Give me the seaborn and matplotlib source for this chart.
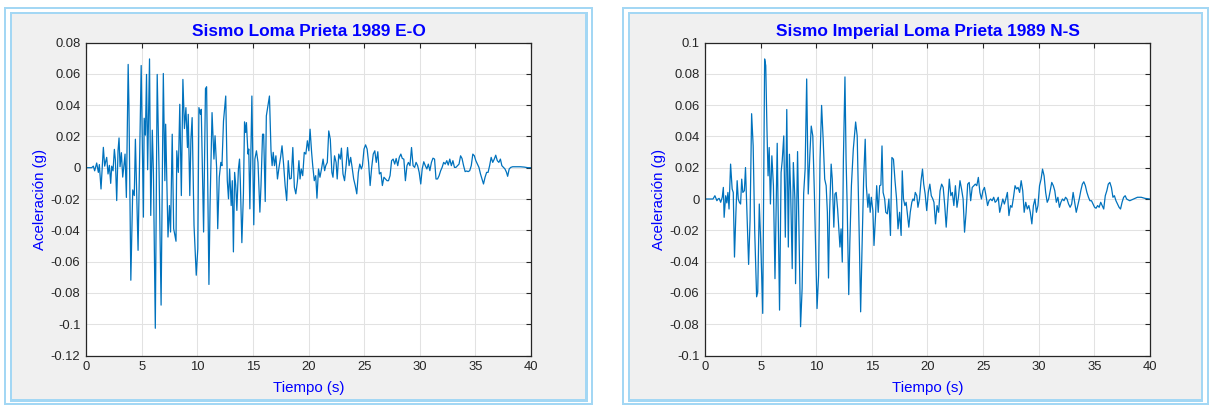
import matplotlib
matplotlib.use("Agg")
import matplotlib.pyplot as plt
from matplotlib.patches import Rectangle
from matplotlib.ticker import FuncFormatter
import numpy as np
import pandas as pd
import seaborn as sns

# Loma Prieta 1989, E-O component: time (s) and acceleration (g)
t_eo = [0.0, 0.06, 0.51, 0.66, 0.78, 0.96, 1.11, 1.2, 1.35, 1.56, 1.68, 1.77, 1.86, 1.98, 2.1, 2.22,
        2.31, 2.43, 2.55, 2.64, 2.76, 2.88, 2.97, 3.06, 3.18, 3.3, 3.42, 3.51, 3.63, 3.79, 3.86, 4.03,
        4.2, 4.34, 4.44, 4.68, 4.96, 5.16, 5.23, 5.34, 5.44, 5.54, 5.71, 5.82, 5.96, 6.06, 6.23, 6.4,
        6.57, 6.75, 6.95, 7.09, 7.16, 7.37, 7.5, 7.6, 7.75, 7.88, 8.09, 8.16, 8.3, 8.43, 8.57, 8.71,
        8.85, 8.98, 9.12, 9.19, 9.33, 9.43, 9.54, 9.71, 9.91, 10.05, 10.15, 10.29, 10.36, 10.46, 10.57,
        10.74, 10.84, 11.05, 11.15, 11.33, 11.5, 11.6, 11.74, 11.84, 11.98, 12.12, 12.22, 12.36, 12.56,
        12.7, 12.81, 12.91, 13.05, 13.15, 13.25, 13.36, 13.46, 13.56, 13.7, 13.8, 13.87, 14.01, 14.15,
        14.25, 14.35, 14.42, 14.56, 14.63, 14.73, 14.91, 15.08, 15.18, 15.32, 15.46, 15.63, 15.73,
        15.87, 15.97, 16.11, 16.21, 16.35, 16.49, 16.63, 16.73, 16.83, 16.94, 17.07, 17.21, 17.35,
        17.49, 17.62, 17.76, 17.9, 18.04, 18.18, 18.31, 18.45, 18.59, 18.73, 18.86, 19.0, 19.14, 19.24,
        19.35, 19.48, 19.62, 19.76, 19.9, 20.03, 20.14, 20.28, 20.38, 20.52, 20.65, 20.76, 20.9, 21.03,
        21.17, 21.31, 21.45, 21.55, 21.69, 21.82, 21.96, 22.1, 22.2, 22.34, 22.48, 22.58, 22.72, 22.86,
        22.96, 23.1, 23.24, 23.38, 23.51, 23.65, 23.79, 23.92, 24.06, 24.2, 24.34, 24.48, 24.61, 24.75,
        24.85, 24.99, 25.13, 25.27, 25.4, 25.54, 25.68, 25.82, 25.96, 26.09, 26.23, 26.37, 26.51,
        26.64, 26.78, 26.92, 27.06, 27.19, 27.33, 27.47, 27.61, 27.75, 27.88, 28.02, 28.16, 28.3,
        28.43, 28.57, 28.71, 28.85, 28.98, 29.12, 29.26, 29.4, 29.54, 29.67, 29.81, 29.95, 30.09,
        30.22, 30.36, 30.5, 30.64, 30.77, 30.91, 31.05, 31.19, 31.33, 31.46, 31.6, 31.74, 31.88, 32.01,
        32.15, 32.29, 32.43, 32.56, 32.7, 32.84, 32.98, 33.12, 33.25, 33.39, 33.53, 33.67, 33.8, 33.94,
        34.08, 34.22, 34.35, 34.49, 34.63, 34.77, 34.91, 35.04, 35.18, 35.32, 35.46, 35.59, 35.73,
        35.87, 36.01, 36.14, 36.28, 36.42, 36.56, 36.7, 36.83, 36.97, 37.11, 37.25, 37.38, 37.52,
        37.66, 37.8, 37.9, 38.04, 38.18, 38.35, 38.69, 39.04, 39.38, 39.72, 40.0]
acc_eo = [0.0, 0.0, 0.0, 0.001, -0.002, 0.003, -0.003, 0.002, -0.0136, 0.013, 0.001, 0.004, 0.0066,
          -0.004, 0.0015, -0.010, 0.001, -0.002, 0.0117, 0.005, -0.021, 0.011, 0.019, 0.0006, 0.0096,
          -0.006, 0.002, 0.0087, -0.019, 0.066, 0.0394, -0.0719, -0.0142, -0.0178, 0.0182, -0.0528,
          0.0653, -0.0316, 0.0316, 0.0208, 0.0596, -0.0013, 0.0695, -0.0305, 0.024, -0.003, -0.1026,
          0.0596, -0.003, -0.0878, 0.0602, -0.0083, 0.0278, -0.0443, -0.0242, -0.0411, 0.0214, -0.039,
          -0.047, 0.0108, -0.003, 0.0405, -0.0178, 0.0564, 0.025, 0.0384, 0.0129, 0.0341, -0.0178,
          0.0182, 0.032, -0.0369, -0.0687, -0.0517, 0.0384, 0.0341, 0.0373, 0.0002, -0.0411, 0.0505,
          0.0517, -0.0746, -0.0242, 0.0352, 0.0055, 0.0204, 0.0002, -0.039, -0.0061, 0.0034, 0.0013,
          0.0299, 0.0458, -0.0083, -0.0199, -0.0008, -0.0242, -0.0083, -0.0538, -0.003, -0.0114,
          -0.0273, -0.0008, 0.0055, -0.0083, -0.0479, -0.0167, 0.0293, 0.0225, 0.0288, 0.0087, 0.0119,
          -0.0263, 0.0458, -0.0365, 0.0055, 0.0108, 0.0034, -0.0284, -0.0114, 0.0214, 0.0214, -0.0216,
          0.0331, 0.0394, 0.0458, 0.0108, 0.0013, 0.0098, 0.0013, 0.0076, -0.0072, 0.0002, 0.0066,
          0.014, 0.0023, -0.0114, -0.021, 0.0045, -0.0072, -0.0068, 0.0129, -0.0125, -0.0167, -0.0089,
          0.0045, -0.0072, -0.0008, -0.0051, 0.0098, 0.0087, 0.0172, 0.0108, 0.0246, 0.0098, 0.0013,
          -0.0083, -0.0051, -0.0195, -0.0008, -0.0061, -0.0008, 0.0055, -0.0019, 0.0013, 0.0034, 0.0235,
          0.0182, -0.003, -0.0061, 0.0076, 0.0034, -0.0072, 0.0087, 0.0055, 0.0125, -0.004, -0.0083,
          0.0013, 0.0129, 0.0013, 0.0066, 0.0002, -0.0072, -0.0114, -0.0167, -0.003, 0.0023, -0.0008,
          0.0013, 0.0119, 0.0146, 0.0119, 0.0034, -0.0114, 0.0002, 0.0087, 0.0108, 0.0034, 0.0102,
          -0.004, -0.003, -0.0114, -0.0061, -0.0072, -0.0083, -0.0083, -0.0051, 0.0045, 0.0055, 0.0023,
          0.0059, 0.0013, 0.0066, 0.0087, 0.0059, 0.0055, -0.0083, 0.0013, 0.0034, 0.0013, 0.0129,
          0.0013, 0.0002, 0.0034, 0.0013, -0.003, -0.0104, -0.0008, 0.0038, 0.0013, -0.0008, 0.0023,
          -0.0019, 0.0034, 0.0061, 0.0055, -0.0072, -0.0072, -0.0051, -0.0019, 0.0002, 0.0034, 0.0023,
          0.0045, 0.0017, 0.0055, 0.0013, 0.0045, 0.0002, 0.0002, 0.0013, 0.0023, 0.0076, 0.0059,
          0.0013, -0.0025, -0.0021, -0.0025, -0.0019, 0.0013, 0.0087, 0.0076, 0.0045, 0.0023, 0.0002,
          -0.004, -0.0072, -0.0104, -0.0061, -0.003, -0.003, 0.0013, 0.0066, 0.0034, 0.0055, 0.008,
          0.0045, 0.0034, 0.0055, 0.0013, 0.0002, -0.0008, -0.003, -0.0055, -0.0008, 0.0002, 0.0006,
          0.0006, 0.0006, 0.0004, 0.0, 0.0]

# Imperial Loma Prieta 1989, N-S component: time (s) and acceleration (g)
t_ns = [0.0, 0.72, 0.89, 1.07, 1.17, 1.27, 1.41, 1.55, 1.65, 1.72, 1.86, 1.96, 2.06, 2.16, 2.3, 2.44,
        2.54, 2.65, 2.78, 2.89, 2.99, 3.09, 3.2, 3.3, 3.4, 3.54, 3.64, 3.75, 3.92, 4.05, 4.19, 4.33,
        4.47, 4.64, 4.74, 4.88, 5.02, 5.19, 5.36, 5.46, 5.57, 5.67, 5.77, 5.88, 6.01, 6.15, 6.29, 6.49,
        6.7, 6.84, 6.94, 7.08, 7.22, 7.35, 7.49, 7.59, 7.7, 7.84, 7.94, 8.08, 8.14, 8.32, 8.45, 8.59,
        8.73, 8.87, 9.0, 9.14, 9.28, 9.42, 9.55, 9.69, 9.83, 9.93, 10.07, 10.21, 10.34, 10.48, 10.62,
        10.76, 10.89, 11.0, 11.1, 11.2, 11.34, 11.44, 11.58, 11.68, 11.79, 11.92, 12.03, 12.13, 12.23,
        12.34, 12.44, 12.58, 12.68, 12.78, 12.92, 13.02, 13.16, 13.33, 13.54, 13.68, 13.78, 13.88,
        13.99, 14.12, 14.26, 14.4, 14.5, 14.64, 14.74, 14.85, 14.95, 15.09, 15.19, 15.33, 15.43,
        15.57, 15.7, 15.81, 15.91, 16.01, 16.15, 16.25, 16.39, 16.53, 16.67, 16.8, 16.94, 17.08,
        17.22, 17.35, 17.49, 17.63, 17.73, 17.84, 17.97, 18.08, 18.18, 18.32, 18.45, 18.59, 18.69,
        18.8, 18.9, 19.04, 19.14, 19.28, 19.42, 19.55, 19.66, 19.79, 19.93, 20.07, 20.21, 20.34,
        20.48, 20.58, 20.72, 20.86, 21.0, 21.13, 21.27, 21.41, 21.55, 21.68, 21.82, 21.96, 22.1,
        22.23, 22.37, 22.51, 22.65, 22.78, 22.92, 23.06, 23.2, 23.33, 23.47, 23.61, 23.75, 23.88,
        24.02, 24.16, 24.3, 24.43, 24.57, 24.71, 24.85, 24.98, 25.12, 25.26, 25.4, 25.53, 25.67,
        25.81, 25.95, 26.08, 26.22, 26.36, 26.49, 26.63, 26.77, 26.91, 27.04, 27.18, 27.32, 27.46,
        27.59, 27.73, 27.87, 28.01, 28.14, 28.28, 28.42, 28.56, 28.69, 28.83, 28.97, 29.11, 29.24,
        29.38, 29.52, 29.66, 29.79, 29.93, 30.07, 30.21, 30.34, 30.48, 30.62, 30.76, 30.89, 31.03,
        31.17, 31.31, 31.44, 31.58, 31.72, 31.86, 31.99, 32.13, 32.27, 32.41, 32.54, 32.68, 32.82,
        32.96, 33.09, 33.23, 33.37, 33.51, 33.64, 33.78, 33.92, 34.05, 34.19, 34.33, 34.47, 34.6,
        34.74, 34.88, 35.02, 35.15, 35.29, 35.43, 35.57, 35.7, 35.84, 35.98, 36.12, 36.25, 36.39,
        36.53, 36.67, 36.8, 36.94, 37.08, 37.22, 37.35, 37.49, 37.63, 37.77, 37.9, 38.04, 38.18,
        38.52, 38.87, 39.21, 39.55, 40.0]
acc_ns = [0.0, 0.0, 0.0021, -0.0011, 0.0, 0.0004, -0.0021, 0.0011, 0.0074, -0.0117, 0.0021, -0.0025,
          0.0042, -0.0064, 0.0223, 0.0064, 0.0042, -0.0371, -0.0085, 0.0117, 0.0, -0.0021, -0.0032,
          0.0127, 0.0042, 0.0053, 0.0201, -0.0042, -0.0418, -0.0138, 0.0545, 0.0339, -0.0212, -0.0625,
          -0.0594, -0.0032, -0.0297, -0.0731, 0.0895, 0.0852, 0.0445, 0.0148, 0.0329, -0.0032, 0.0276,
          0.0085, -0.0509, 0.0356, -0.071, 0.017, 0.0244, 0.0403, -0.0244, 0.0572, -0.0307, 0.0286,
          0.0042, -0.0445, 0.0233, 0.0, -0.0541, 0.0303, -0.0212, -0.0816, -0.0572, 0.0038, 0.0191,
          0.0767, 0.0032, 0.0276, 0.0466, 0.0403, 0.0042, -0.0276, -0.07, -0.0488, 0.0254, 0.0598,
          0.0382, 0.0127, 0.0085, -0.0085, -0.0505, -0.0085, 0.0223, 0.0127, -0.018, 0.0032, 0.0042,
          -0.0064, -0.0191, -0.0307, -0.0191, -0.0403, 0.0254, 0.078, 0.0254, -0.0042, -0.0611,
          -0.0276, 0.0085, 0.0318, 0.0492, 0.0403, 0.0064, -0.0297, -0.0721, -0.0297, 0.0127, 0.0382,
          0.0085, -0.0053, 0.0032, -0.0085, 0.0011, -0.0074, -0.0297, -0.0106, 0.0085, -0.0085, 0.0085,
          0.0089, 0.0339, 0.0042, 0.0, -0.0085, -0.0095, 0.0, -0.0233, 0.0265, 0.0254, 0.0117, 0.0,
          -0.0191, -0.0085, -0.0233, 0.018, 0.0, -0.0042, -0.0021, -0.0085, -0.018, -0.0085, -0.0021,
          0.0, -0.0011, 0.0042, 0.0021, -0.0053, 0.0, 0.0117, 0.0191, 0.0095, 0.0032, -0.0074, 0.0042,
          0.0095, 0.0021, 0.0, -0.0021, -0.0159, -0.0042, -0.0085, 0.0053, 0.0095, 0.0074, -0.0042,
          -0.018, -0.0021, 0.0127, 0.0021, 0.0042, -0.0042, 0.0085, -0.0053, 0.0011, 0.0117, 0.0064,
          0.0, -0.0212, -0.0085, 0.0095, 0.0106, -0.0011, 0.0074, 0.0085, 0.0095, 0.0085, 0.0138,
          0.0042, 0.0, 0.0053, 0.0074, 0.0021, -0.0042, -0.0011, 0.0, -0.0011, 0.0011, -0.0021,
          -0.0011, 0.0011, -0.0085, -0.0042, 0.0, -0.0032, 0.0, 0.0042, -0.0106, -0.0042, -0.0053,
          0.0011, 0.0085, 0.0064, 0.0074, 0.0042, 0.0117, 0.0053, -0.0085, -0.0021, -0.0064, -0.0042,
          -0.0085, -0.0159, -0.0042, 0.0, -0.0085, -0.0042, 0.0085, 0.0127, 0.0191, 0.0148, 0.0042,
          -0.0021, 0.0, 0.0053, 0.0106, 0.0085, 0.0053, -0.0021, 0.0011, -0.0053, -0.0021, 0.0,
          -0.0011, 0.0011, 0.0, -0.0032, -0.0053, -0.0032, 0.0042, -0.0021, -0.0085, -0.0042, 0.0,
          0.0053, 0.0095, 0.011, 0.0085, 0.0042, 0.0011, -0.0011, -0.0011, -0.0032, -0.0053, -0.0059,
          -0.0042, -0.0053, -0.0021, -0.0042, -0.0064, 0.0021, 0.0053, 0.0095, 0.0106, 0.0074, 0.0011,
          0.0021, -0.0011, -0.0032, -0.0053, -0.0064, -0.0021, 0.0011, 0.0021, 0.0, -0.0006, -0.0011,
          0.0, 0.0011, 0.0011, 0.0004, 0.0]

titles = ["Sismo Loma Prieta 1989 E-O", "Sismo Imperial Loma Prieta 1989 N-S"]
x_ticks = [0, 5, 10, 15, 20, 25, 30, 35, 40]
y_ticks_eo = [-0.12, -0.10, -0.08, -0.06, -0.04, -0.02, 0.0, 0.02, 0.04, 0.06, 0.08]
y_ticks_ns = [-0.10, -0.08, -0.06, -0.04, -0.02, 0.0, 0.02, 0.04, 0.06, 0.08, 0.10]

sns.set_style("white")
plt.rcParams["font.family"] = ["Liberation Sans", "DejaVu Sans"]
plt.rcParams["axes.unicode_minus"] = False

W, H = 1209, 405
fig = plt.figure(figsize=(W / 100, H / 100), dpi=100, facecolor="white")

LINE_BLUE = "#0072BD"
FRAME_BLUE = "#a3d7f4"
PANEL_GRAY = "#f0f0f0"
TEXT_BLUE = "#0000ff"


def frame_rect(x0, y0, x1, y1, color, z):
    fig.add_artist(Rectangle((x0 / W, 1 - y1 / H), (x1 - x0) / W, (y1 - y0) / H,
                             transform=fig.transFigure, facecolor=color,
                             edgecolor="none", zorder=z))


def panel(x0, x1):
    # double light-blue frame around a gray panel
    frame_rect(x0, 7, x1, 405, FRAME_BLUE, -4)
    frame_rect(x0 + 2.3, 9.3, x1 - 2.3, 402.7, "white", -3)
    frame_rect(x0 + 5.7, 12, x1 - 5.7, 401.7, FRAME_BLUE, -2)
    frame_rect(x0 + 8.3, 14, x1 - 8.3, 399, PANEL_GRAY, -1)


panel(4, 593.3)
panel(622, 1209)

fmt = FuncFormatter(lambda v, p: f"{round(v, 4):g}")


def draw(ax, t, acc, title, yticks):
    df = pd.DataFrame({"Tiempo": t, "Aceleracion": acc})
    sns.lineplot(data=df, x="Tiempo", y="Aceleracion", ax=ax, color=LINE_BLUE,
                 linewidth=0.9, estimator=None, sort=False)
    ax.set_facecolor("white")
    ax.set_xlim(0, 40)
    ax.set_ylim(yticks[0], yticks[-1])
    ax.set_xticks(x_ticks)
    ax.set_yticks(yticks)
    ax.xaxis.set_major_formatter(fmt)
    ax.yaxis.set_major_formatter(fmt)
    ax.grid(True, color="#e2e2e2", linewidth=0.75)
    ax.set_axisbelow(True)
    ax.tick_params(direction="in", length=3.4, width=0.8, color="#262626",
                   labelsize=9.4, labelcolor="#262626", top=True, right=True,
                   pad=4)
    for s in ax.spines.values():
        s.set_color("#262626")
        s.set_linewidth(0.9)
        s.set_visible(True)
    ax.set_title(title, color=TEXT_BLUE, fontsize=12.4, fontweight="bold", pad=4.6)
    ax.set_xlabel("Tiempo (s)", color=TEXT_BLUE, fontsize=10.8)
    ax.set_ylabel("Aceleración (g)", color=TEXT_BLUE, fontsize=10.8)
    ax.xaxis.label.set_va("center")
    ax.yaxis.label.set_va("center")
    ax.xaxis.set_label_coords(0.5, -0.104)
    ax.yaxis.set_label_coords(-0.103, 0.5)


ax1 = fig.add_axes([86 / W, (H - 355.5) / H, 445 / W, 313 / H])
ax2 = fig.add_axes([705 / W, (H - 355.5) / H, 445 / W, 313 / H])
draw(ax1, t_eo, acc_eo, titles[0], y_ticks_eo)
draw(ax2, t_ns, acc_ns, titles[1], y_ticks_ns)

fig.savefig("out.png", dpi=100, facecolor="white")
